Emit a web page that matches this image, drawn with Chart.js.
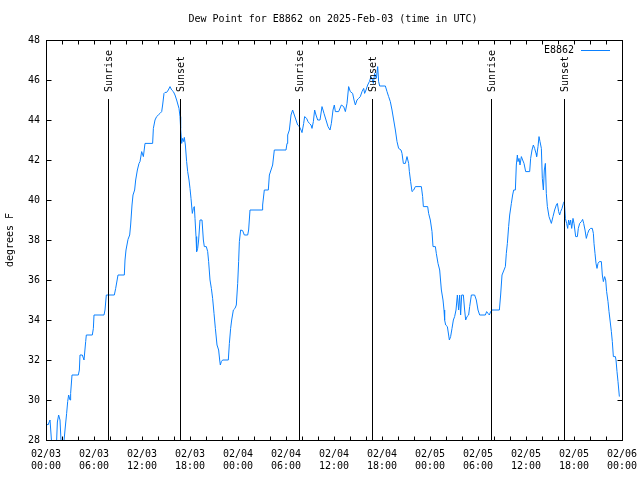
<!DOCTYPE html>
<html>
<head>
<meta charset="utf-8">
<script src="https://cdn.jsdelivr.net/npm/chart.js@4/dist/chart.umd.min.js"></script>
<style>
  html, body { margin: 0; padding: 0; background: #fff; }
  canvas { display: block; }
</style>
</head>
<body>
<canvas id="dew-chart" width="640" height="480" style="width:640px;height:480px"></canvas>
<script>
const TITLE = 'Dew Point for E8862 on 2025-Feb-03 (time in UTC)'
const STATION = 'E8862'
const Y_LABEL = 'degrees F'

// hours since 02/03 00:00 UTC
const hours = [
  0.1, 0.25, 0.5, 0.75, 1.29, 1.42, 1.58, 1.75, 1.92, 2.17, 2.375, 2.58, 2.71, 2.83, 3.0,
  3.08, 3.25, 4.04, 4.17, 4.25, 4.54, 4.75, 4.96, 5.04, 5.79, 5.92, 6.0, 7.25, 7.375, 7.54,
  8.54, 8.71, 9.0, 9.79, 9.875, 10.0, 10.25, 10.46, 10.58, 10.75, 10.875, 11.08, 11.21, 11.42, 11.625,
  11.75, 11.96, 12.17, 12.375, 13.33, 13.42, 13.625, 13.83, 14.04, 14.25, 14.46, 14.58, 14.75, 14.875, 15.08,
  15.29, 15.5, 15.71, 15.92, 16.125, 16.33, 16.625, 16.75, 16.83, 16.96, 17.08, 17.21, 17.29, 17.42, 17.58,
  17.71, 17.875, 18.0, 18.125, 18.29, 18.42, 18.54, 18.625, 18.75, 18.83, 18.96, 19.08, 19.25, 19.5, 19.67,
  19.79, 20.04, 20.21, 20.33, 20.5, 20.67, 20.83, 21.0, 21.17, 21.375, 21.58, 21.71, 21.79, 21.92, 22.08,
  22.79, 22.92, 23.08, 23.21, 23.42, 23.625, 23.79,
  23.96, 24.08, 24.17, 24.33, 24.58, 24.79, 25.21, 25.33, 25.5, 27.0, 27.08, 27.29, 27.79, 27.92, 28.125,
  28.33, 28.54, 30.0, 30.125, 30.21, 30.42, 30.625, 30.83, 31.04, 31.25, 31.46, 31.67, 31.875, 32.0, 32.21,
  32.33, 32.58, 32.75, 32.92, 33.125, 33.25, 33.42, 33.58, 33.75, 33.96, 34.25, 34.5, 34.75, 35.0, 35.25,
  35.5, 35.67, 35.875, 36.04,
  36.17, 36.58, 36.92, 37.21, 37.42, 37.625, 37.83, 38.04, 38.33, 38.5, 38.67, 38.875, 39.08, 39.29, 39.5,
  39.71, 39.83, 40.0, 40.21, 40.42, 40.625, 40.75, 40.92, 41.08, 41.29, 41.46, 41.58, 41.71, 42.42, 42.625,
  42.83, 43.04, 43.25, 43.46, 43.67, 43.875, 44.08, 44.375, 44.5, 44.67, 44.92, 45.125, 45.33, 45.42, 45.58,
  45.75, 45.96, 46.17, 46.92, 47.08, 47.17, 47.71, 47.83, 48.04,
  48.25, 48.375, 48.67, 48.79, 49.0, 49.21, 49.42, 49.625, 49.75, 49.83, 49.96, 50.17, 50.33, 50.42, 50.58,
  50.75, 50.92, 51.08, 51.25, 51.42, 51.58, 51.71, 51.83, 51.96, 52.17, 52.33, 52.46, 52.625, 52.83, 52.96,
  53.17, 53.58, 53.79, 54.0, 54.21, 54.92, 55.08, 55.25, 55.42, 55.58, 55.75, 56.67, 56.83, 57.0, 57.25,
  57.42, 57.54, 57.67, 57.83, 57.96, 58.17, 58.33, 58.46, 58.67, 58.79, 58.92, 59.0, 59.125, 59.25, 59.42,
  59.58,
  59.75, 59.96, 60.46, 60.58, 60.75, 60.92, 61.08, 61.25, 61.33, 61.5, 61.625, 61.75, 61.92, 62.04, 62.17,
  62.29, 62.42, 62.54, 62.67, 62.875, 63.17, 63.375, 63.58, 63.79, 63.92, 64.08, 64.21, 64.33, 64.5, 64.67,
  64.79, 64.92, 65.08, 65.21, 65.33, 65.46, 65.58, 65.71, 65.875, 66.0, 66.21, 66.42, 66.54, 66.71, 66.92,
  67.08, 67.21, 67.375, 67.54, 67.71, 67.875, 68.08, 68.29, 68.42, 68.5, 68.625, 68.75, 68.875, 69.0, 69.17,
  69.42, 69.54, 69.67, 69.83, 69.96, 70.08, 70.25, 70.375, 70.5, 70.67, 70.79, 70.92, 71.17, 71.25, 71.375,
  71.5, 71.67
]

// dew point, degrees F (same order as hours)
const dewF = [
  28.8, 28.75, 29.0, 27.6, 27.6, 28.9, 29.25, 29.0, 27.6, 27.6, 28.5, 29.33, 29.92, 30.25, 30.0,
  30.33, 31.25, 31.25, 31.5, 32.25, 32.25, 32.0, 32.92, 33.25, 33.25, 33.58, 34.25, 34.25, 34.5, 35.25,
  35.25, 35.58, 36.25, 36.25, 37.0, 37.5, 38.03, 38.25, 38.75, 39.75, 40.25, 40.5, 41.0, 41.5, 41.83,
  41.92, 42.42, 42.17, 42.83, 42.83, 43.58, 44.0, 44.17, 44.25, 44.33, 44.42, 44.75, 45.33, 45.38, 45.38,
  45.5, 45.67, 45.5, 45.42, 45.25, 45.0, 44.58, 44.17, 43.58, 42.83, 43.08, 42.92, 43.13, 42.75, 41.92,
  41.42, 41.0, 40.58, 40.08, 39.33, 39.58, 39.67, 39.08, 38.17, 37.42, 37.58, 38.0, 39.0, 39.0, 38.0,
  37.67, 37.67, 37.42, 36.92, 36.0, 35.58, 35.08, 34.33, 33.58, 32.75, 32.5, 32.0, 31.75, 31.92, 32.0,
  32.0, 32.83, 33.58, 34.0, 34.5, 34.58, 34.75,
  35.83, 36.92, 37.92, 38.5, 38.47, 38.25, 38.25, 38.5, 39.5, 39.5, 39.75, 40.5, 40.5, 41.25, 41.5,
  41.75, 42.5, 42.5, 42.83, 43.25, 43.5, 44.25, 44.5, 44.25, 44.0, 43.75, 43.67, 43.5, 43.37, 43.83,
  44.17, 44.08, 43.92, 43.83, 43.75, 43.58, 43.92, 44.5, 44.25, 44.0, 44.0, 44.67, 44.33, 44.0, 43.67,
  43.5, 43.83, 44.5, 44.75,
  44.42, 44.42, 44.75, 44.67, 44.42, 44.83, 45.67, 45.42, 45.33, 45.0, 44.75, 45.0, 45.08, 45.17, 45.42,
  45.58, 45.33, 45.5, 45.75, 45.92, 46.17, 46.08, 45.83, 46.33, 46.08, 46.67, 45.92, 45.7, 45.7, 45.42,
  45.17, 44.92, 44.5, 44.0, 43.5, 42.92, 42.58, 42.5, 42.33, 41.83, 41.83, 42.17, 41.83, 41.42, 40.92,
  40.42, 40.5, 40.67, 40.67, 40.17, 39.67, 39.67, 39.33, 39.0,
  38.42, 37.67, 37.67, 37.33, 36.83, 36.5, 35.5, 35.0, 34.5, 34.0, 33.75, 33.67, 33.25, 33.0, 33.17,
  33.58, 34.0, 34.17, 34.5, 35.25, 34.5, 35.25, 34.25, 35.25, 35.25, 34.5, 34.0, 34.17, 34.25, 34.67,
  35.25, 35.25, 35.0, 34.5, 34.25, 34.25, 34.42, 34.33, 34.25, 34.42, 34.5, 34.5, 35.25, 36.25, 36.5,
  36.67, 37.33, 37.83, 38.67, 39.25, 39.83, 40.25, 40.5, 40.5, 41.75, 42.25, 41.92, 42.08, 41.75, 42.17,
  42.0,
  41.83, 41.42, 41.42, 42.08, 42.5, 42.75, 42.58, 42.33, 42.17, 42.67, 43.17, 42.92, 42.58, 41.08, 40.5,
  41.5, 41.83, 40.33, 39.67, 39.17, 38.83, 39.17, 39.5, 39.75, 39.83, 39.42, 39.25, 39.42, 39.58, 39.83,
  39.92, 39.08, 38.83, 38.58, 39.0, 38.75, 39.0, 38.58, 39.08, 38.83, 38.17, 38.17, 38.58, 38.83, 38.92,
  39.03, 38.83, 38.5, 38.08, 38.33, 38.5, 38.58, 38.58, 38.33, 37.83, 37.33, 36.83, 36.58, 36.83, 36.92,
  36.92, 36.25, 35.92, 36.17, 36.0, 35.42, 34.92, 34.42, 34.0, 33.42, 32.92, 32.17, 32.17, 32.0, 31.42,
  30.92, 30.17
]

// x tick labels, one per 6 hours
const tickDay  = ['02/03', '02/03', '02/03', '02/03', '02/04', '02/04', '02/04', '02/04', '02/05', '02/05', '02/05', '02/05', '02/06']
const tickTime = ['00:00', '06:00', '12:00', '18:00', '00:00', '06:00', '12:00', '18:00', '00:00', '06:00', '12:00', '18:00', '00:00']
const yTicks = [28, 30, 32, 34, 36, 38, 40, 42, 44, 46, 48]

// sunrise / sunset markers (hours since start)
const sunLabels = ['Sunrise', 'Sunset', 'Sunrise', 'Sunset', 'Sunrise', 'Sunset']
const sunHours  = [7.79, 16.79, 31.67, 40.8, 55.67, 64.8]

const LINE_COLOR = 'rgb(10,128,255)'
const FONT = '10px "DejaVu Sans Mono", monospace'

const points = hours.map((h, i) => ({ x: h, y: dewF[i] }))

const gnuplotDecor = {
  id: 'gnuplotDecor',
  afterDatasetsDraw(chart) {
    const { ctx, chartArea: a, scales: { x, y } } = chart
    const L = Math.round(a.left) + 0.5, R = Math.round(a.right) + 0.5
    const T = Math.round(a.top) + 0.5, B = Math.round(a.bottom) + 0.5
    ctx.save()
    ctx.strokeStyle = '#000'
    ctx.lineWidth = 1

    // sunrise / sunset lines
    ctx.beginPath()
    sunHours.forEach(h => {
      const px = Math.round(x.getPixelForValue(h)) + 0.5
      ctx.moveTo(px, 99)
      ctx.lineTo(px, B)
    })
    ctx.stroke()

    // frame
    ctx.strokeRect(L, T, R - L, B - T)

    // inward ticks
    ctx.beginPath()
    yTicks.forEach(v => {
      const py = Math.round(y.getPixelForValue(v)) + 0.5
      ctx.moveTo(L, py); ctx.lineTo(L + 5, py)
      ctx.moveTo(R, py); ctx.lineTo(R - 5, py)
    })
    for (let h = 0; h <= 72; h += 2) {
      const px = Math.round(x.getPixelForValue(h)) + 0.5
      ctx.moveTo(px, B); ctx.lineTo(px, B - 4)
      ctx.moveTo(px, T); ctx.lineTo(px, T + 4)
    }
    ctx.stroke()

    ctx.fillStyle = '#000'
    ctx.font = FONT

    // rotated sun labels
    sunLabels.forEach((lbl, i) => {
      const px = Math.round(x.getPixelForValue(sunHours[i])) + 1
      ctx.save()
      ctx.translate(px, 92)
      ctx.rotate(-Math.PI / 2)
      ctx.textAlign = 'left'
      ctx.textBaseline = 'middle'
      ctx.fillText(lbl, 0, 0)
      ctx.restore()
    })

    // title
    ctx.textAlign = 'center'
    ctx.textBaseline = 'middle'
    ctx.fillText(TITLE, 333, 19)

    // y axis title
    ctx.save()
    ctx.translate(10, 240)
    ctx.rotate(-Math.PI / 2)
    ctx.fillText(Y_LABEL, 0, 0)
    ctx.restore()

    // key
    ctx.textAlign = 'right'
    ctx.fillText(STATION, 574, 50)
    ctx.strokeStyle = LINE_COLOR
    ctx.beginPath()
    ctx.moveTo(581, 50.5)
    ctx.lineTo(610, 50.5)
    ctx.stroke()

    ctx.restore()
  }
}

new Chart(document.getElementById('dew-chart').getContext('2d'), {
  type: 'line',
  data: {
    datasets: [{
      label: STATION,
      data: points,
      borderColor: LINE_COLOR,
      borderWidth: 1,
      pointRadius: 0,
      tension: 0,
      fill: false
    }]
  },
  options: {
    responsive: false,
    animation: false,
    devicePixelRatio: 1,
    layout: { padding: { top: 40, right: 18, left: 0, bottom: 0 } },
    scales: {
      x: {
        type: 'linear',
        min: 0, max: 72,
        grid: { display: false, drawTicks: false },
        border: { display: false },
        ticks: {
          stepSize: 6,
          autoSkip: false,
          maxRotation: 0,
          padding: 8,
          color: '#000',
          font: { family: '"DejaVu Sans Mono", monospace', size: 10 },
          callback: v => {
            const i = Math.round(v / 6)
            return [tickDay[i], tickTime[i]]
          }
        },
        afterFit: s => {
          s.height = 40
          // labels at the ends may overhang; keep the plot box fixed
          s.paddingLeft = 0
          s.paddingRight = 0
        }
      },
      y: {
        min: 28, max: 48,
        grid: { display: false, drawTicks: false },
        border: { display: false },
        ticks: {
          stepSize: 2,
          padding: 6,
          color: '#000',
          font: { family: '"DejaVu Sans Mono", monospace', size: 10 }
        },
        afterFit: s => {
          s.width = 46
          s.paddingTop = 0
          s.paddingBottom = 0
        }
      }
    },
    plugins: {
      legend: { display: false },
      title: { display: false },
      tooltip: { enabled: false }
    }
  },
  plugins: [gnuplotDecor]
})
</script>
</body>
</html>
